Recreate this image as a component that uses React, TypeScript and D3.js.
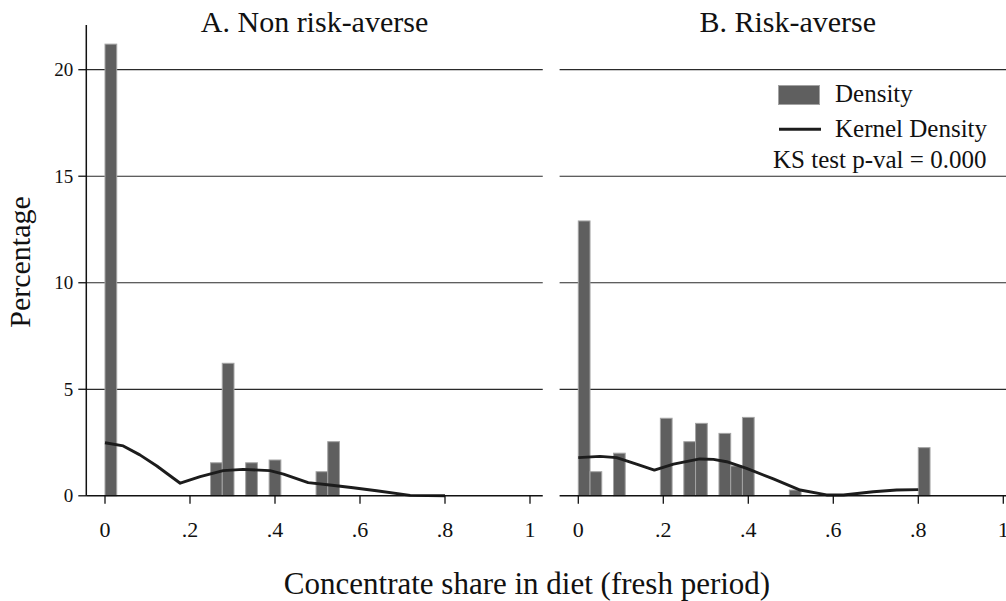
import * as d3 from 'd3';

// histogram bars: left edge of each bin and its height (percent)
const BIN = 0.8 / 29;
const leftBarX = [0, 0.2483, 0.2759, 0.331, 0.3862, 0.4966, 0.5241];
const leftBarH = [21.2, 1.55, 6.22, 1.55, 1.68, 1.13, 2.54];
const rightBarX = [0, 0.0276, 0.0828, 0.1931, 0.2483, 0.2759, 0.331, 0.3586, 0.3862, 0.4966, 0.8];
const rightBarH = [12.9, 1.13, 2.0, 3.64, 2.54, 3.4, 2.93, 1.4, 3.68, 0.27, 2.26];

// kernel density curves
const leftKdX = [0, 0.043, 0.082, 0.122, 0.145, 0.177, 0.224, 0.278, 0.325, 0.388, 0.42, 0.478, 0.529, 0.584, 0.639, 0.718, 0.8];
const leftKdY = [2.49, 2.34, 1.92, 1.4, 1.06, 0.59, 0.9, 1.18, 1.24, 1.18, 1.02, 0.62, 0.51, 0.38, 0.24, 0.02, 0];
const rightKdX = [0, 0.051, 0.09, 0.137, 0.179, 0.224, 0.286, 0.318, 0.349, 0.396, 0.459, 0.522, 0.584, 0.624, 0.694, 0.749, 0.8];
const rightKdY = [1.79, 1.85, 1.79, 1.49, 1.21, 1.49, 1.73, 1.71, 1.6, 1.29, 0.79, 0.27, 0.04, 0.04, 0.19, 0.27, 0.29];

const xTicks = [0, 0.2, 0.4, 0.6, 0.8, 1];
const xTickLabels = ['0', '.2', '.4', '.6', '.8', '1'];
const yTicks = [0, 5, 10, 15, 20];

const FONT = '"Liberation Serif", "Times New Roman", serif';
const BAR_FILL = '#5f5f5f';
const BAR_STROKE = '#a3a3a3';

const y = d3.scaleLinear().domain([0, 20]).range([495.8, 69.7]);
const X_MIN = -0.044;
const X_MAX = 1.03;
const Y_MAX = 22.1;

function Panel({ x, title, barX, barH, kdX, kdY, showYAxis }) {
  const line = d3.line<number>()
    .x((_, i) => x(kdX[i]))
    .y(d => y(d))
    .curve(d3.curveLinear);
  const left = x(X_MIN);
  const right = x(X_MAX);
  return (
    <g>
      {yTicks.filter(t => t > 0).map(t => (
        <line key={t} x1={left} x2={right} y1={y(t)} y2={y(t)} stroke="#2a2a2a" strokeWidth={1.2} />
      ))}
      {barX.map((bx, i) => (
        <rect key={i} x={x(bx)} y={y(barH[i])} width={x(bx + BIN) - x(bx)} height={y(0) - y(barH[i])}
          fill={BAR_FILL} stroke={BAR_STROKE} strokeWidth={1} />
      ))}
      <path d={line(kdY) || ''} fill="none" stroke="#1c1c1c" strokeWidth={2.9} strokeLinejoin="round" />
      <line x1={left} x2={right} y1={y(0)} y2={y(0)} stroke="#111" strokeWidth={1.5} />
      {xTicks.map((t, i) => (
        <g key={t}>
          <line x1={x(t)} x2={x(t)} y1={y(0)} y2={y(0) + 8} stroke="#111" strokeWidth={1.3} />
          <text x={x(t)} y={537} textAnchor="middle" fontFamily={FONT} fontSize={22} fill="#111">{xTickLabels[i]}</text>
        </g>
      ))}
      {showYAxis && (
        <g>
          <line x1={left} x2={left} y1={y(Y_MAX)} y2={y(0)} stroke="#111" strokeWidth={1.5} />
          {yTicks.map(t => (
            <g key={t}>
              <line x1={left - 8} x2={left} y1={y(t)} y2={y(t)} stroke="#111" strokeWidth={1.3} />
              <text x={left - 13} y={y(t)} dy="0.35em" textAnchor="end" fontFamily={FONT} fontSize={19} fill="#111">{t}</text>
            </g>
          ))}
        </g>
      )}
      <text x={(left + Math.min(right, 1016)) / 2} y={32} textAnchor="middle" fontFamily={FONT} fontSize={30} fill="#111">{title}</text>
    </g>
  );
}

export default function App() {
  const xLeft = d3.scaleLinear().domain([0, 1]).range([105, 530]);
  const xRight = d3.scaleLinear().domain([0, 1]).range([578.3, 1003.3]);
  return (
    <svg width={1006} height={601} style={{ position: 'absolute', left: 0, top: 0, background: '#fff' }}>
      <rect width={1006} height={601} fill="#fff" />
      <Panel x={xLeft} title="A. Non risk-averse" barX={leftBarX} barH={leftBarH} kdX={leftKdX} kdY={leftKdY} showYAxis />
      <Panel x={xRight} title="B. Risk-averse" barX={rightBarX} barH={rightBarH} kdX={rightKdX} kdY={rightKdY} showYAxis={false} />

      {/* legend */}
      <rect x={778.5} y={85.5} width={41} height={19} fill={BAR_FILL} stroke={BAR_STROKE} strokeWidth={1} />
      <text x={835} y={102} fontFamily={FONT} fontSize={25} fill="#111">Density</text>
      <line x1={779} x2={821} y1={129.3} y2={129.3} stroke="#1c1c1c" strokeWidth={2.9} />
      <text x={835} y={137} fontFamily={FONT} fontSize={25} fill="#111">Kernel Density</text>
      <text x={773} y={168} fontFamily={FONT} fontSize={25} fill="#111">KS test p-val = 0.000</text>

      <text transform="translate(30,262) rotate(-90)" textAnchor="middle" fontFamily={FONT} fontSize={30} fill="#111">Percentage</text>
      <text x={527} y={594} textAnchor="middle" fontFamily={FONT} fontSize={31} fill="#111">Concentrate share in diet (fresh period)</text>
    </svg>
  );
}
